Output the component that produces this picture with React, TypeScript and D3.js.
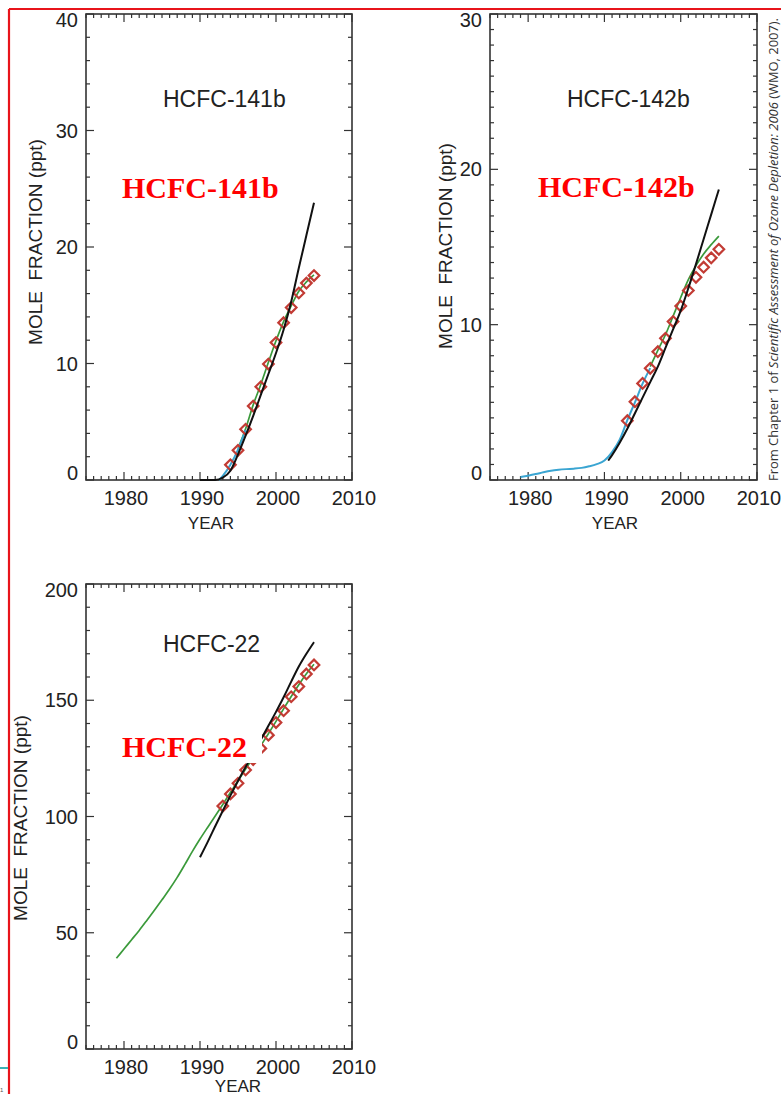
import React from 'react';
import * as d3 from 'd3';

// ---------- shared axis data ----------
const xDomain = [1975, 2010];
const xTickLabels = [1980, 1990, 2000, 2010];

// ---------- HCFC-141b ----------
const p1Title = 'HCFC-141b';
const p1YTicks = [0, 10, 20, 30, 40];
const p1ObsYears = [1994, 1995, 1996, 1997, 1998, 1999, 2000, 2001, 2002, 2003, 2004, 2005];
const p1ObsValues = [1.3, 2.55, 4.35, 6.35, 8.0, 9.95, 11.8, 13.5, 14.8, 16.05, 16.9, 17.55];
const p1BlackYears = [1990, 1991, 1992, 1993, 1994, 1995, 1996, 1997, 1998, 1999, 2000, 2001, 2002, 2003, 2004, 2005];
const p1BlackValues = [0, 0, 0, 0.2, 0.8, 2.2, 3.8, 5.5, 7.3, 9.1, 10.9, 12.9, 15.3, 18.2, 21.0, 23.8];
const p1BlueYears = [1992.5, 1993, 1994, 1995, 1996];
const p1BlueValues = [0, 0.35, 1.3, 2.6, 4.3];
const p1GreenYears = [1995, 1996, 1997, 1998, 1999, 2000, 2001, 2002, 2003, 2004, 2005];
const p1GreenValues = [2.7, 4.4, 6.45, 8.2, 10.1, 11.95, 13.6, 14.95, 16.2, 17.0, 17.6];

// ---------- HCFC-142b ----------
const p2Title = 'HCFC-142b';
const p2YTicks = [0, 10, 20, 30];
const p2ObsYears = [1993, 1994, 1995, 1996, 1997, 1998, 1999, 2000, 2001, 2002, 2003, 2004, 2005];
const p2ObsValues = [3.82, 5.04, 6.22, 7.19, 8.26, 9.12, 10.2, 11.2, 12.2, 13.05, 13.7, 14.3, 14.85];
const p2BlackYears = [1990.5, 1991, 1992, 1993, 1994, 1995, 1996, 1997, 1998, 1999, 2000, 2001, 2002, 2003, 2004, 2005];
const p2BlackValues = [1.25, 1.6, 2.4, 3.3, 4.3, 5.3, 6.3, 7.3, 8.5, 9.7, 10.9, 12.35, 13.9, 15.5, 17.1, 18.7];
const p2BlueYears = [1979, 1980, 1981, 1982, 1983, 1984, 1985, 1986, 1987, 1988, 1989, 1990, 1991, 1992, 1993, 1994, 1995, 1996];
const p2BlueValues = [0.2, 0.28, 0.38, 0.5, 0.6, 0.66, 0.7, 0.73, 0.78, 0.88, 1.02, 1.25, 1.8, 2.6, 3.85, 5.0, 6.2, 7.2];
const p2GreenYears = [1996, 1997, 1998, 1999, 2000, 2001, 2002, 2003, 2004, 2005];
const p2GreenValues = [7.3, 8.35, 9.35, 10.55, 11.75, 12.9, 13.8, 14.55, 15.15, 15.7];

// ---------- HCFC-22 ----------
const p3Title = 'HCFC-22';
const p3YTicks = [0, 50, 100, 150, 200];
const p3ObsYears = [1993, 1994, 1995, 1996, 1997, 1998, 1999, 2000, 2001, 2002, 2003, 2004, 2005];
const p3ObsValues = [104.5, 109.7, 114.3, 120, 124.5, 129.3, 135, 140.4, 145.5, 151.5, 155.9, 161.3, 165.2];
const p3BlackYears = [1990, 1991, 1992, 1993, 1994, 1995, 1996, 1997, 1998, 1999, 2000, 2001, 2002, 2003, 2004, 2005];
const p3BlackValues = [82.5, 89, 95.8, 102.5, 109, 115.3, 121.3, 127, 133, 139, 145, 151.3, 158, 164.5, 170, 175];
const p3GreenYears = [1979, 1980, 1981, 1982, 1983, 1984, 1985, 1986, 1987, 1988, 1989, 1990, 1991, 1992, 1993, 1994, 1995, 1996, 1997, 1998, 1999, 2000, 2001, 2002, 2003, 2004, 2005];
const p3GreenValues = [39, 43, 47, 51, 55.3, 59.7, 64.2, 68.8, 73.8, 79.3, 85.0, 90.3, 95.3, 100.2, 105.2, 110.3, 115.4, 120.4, 125.4, 130.5, 135.6, 140.9, 146.3, 151.6, 156.7, 161.4, 165.5];

const citationPre = 'From Chapter 1 of ';
const citationItalic = 'Scientific Assessment of Ozone Depletion: 2006';
const citationPost = ' (WMO, 2007).';

const SANS = '"Liberation Sans", Arial, Helvetica, sans-serif';
const SERIF = '"Liberation Serif", "Times New Roman", serif';
const BLACK = '#111';
const GREEN = '#3b9a3b';
const BLUE = '#3aa5d2';
const DIAMOND = '#c23b34';

type Series = { years: number[]; values: number[] };

interface PanelCfg {
  left: number; right: number; top: number; bottom: number;
  yMax: number; yMinor: number; yTicks: number[];
  title: string; titleX: number; titleY: number;
  redX: number; redY: number; redBox: [number, number, number, number];
  yLabelX: number; yLabelY: number;
  yearX: number; yearY: number;
  green?: Series; blue?: Series; black: Series; obs: Series;
}

const zip = (s: Series): [number, number][] => s.years.map((yr, i) => [yr, s.values[i]]);

function Panel({ c }: { c: PanelCfg }) {
  const x = d3.scaleLinear().domain(xDomain).range([c.left, c.right]);
  const y = d3.scaleLinear().domain([0, c.yMax]).range([c.bottom, c.top]);
  const line = d3.line<[number, number]>().x(d => x(d[0])).y(d => y(d[1])).curve(d3.curveMonotoneX);
  const minorX = d3.range(xDomain[0], xDomain[1] + 0.5, 1);
  const minorY = d3.range(0, c.yMax + 1e-6, c.yMinor);
  const isMajorY = (v: number) => c.yTicks.some(t => Math.abs(t - v) < 1e-6);
  const s = 5.3;
  const diamond = `M0,${-s}L${s},0L0,${s}L${-s},0Z`;
  return (
    <g>
      {/* ticks */}
      {minorX.map(yr => {
        const major = yr % 10 === 0;
        const L = major ? 8 : 4;
        const xx = x(yr);
        return (
          <g key={'xt' + yr} stroke="#333" strokeWidth={1.2}>
            <line x1={xx} x2={xx} y1={c.bottom} y2={c.bottom - L} />
            <line x1={xx} x2={xx} y1={c.top} y2={c.top + L} />
          </g>
        );
      })}
      {minorY.map(v => {
        const L = isMajorY(v) ? 8 : 4;
        const yy = y(v);
        return (
          <g key={'yt' + v} stroke="#333" strokeWidth={1.2}>
            <line x1={c.left} x2={c.left + L} y1={yy} y2={yy} />
            <line x1={c.right} x2={c.right - L} y1={yy} y2={yy} />
          </g>
        );
      })}
      <rect x={c.left} y={c.top} width={c.right - c.left} height={c.bottom - c.top} fill="none" stroke="#333" strokeWidth={1.6} />
      {/* tick labels */}
      {xTickLabels.map(yr => (
        <text key={'xl' + yr} x={x(yr) + 2} y={c.bottom + 25} textAnchor="middle" fontFamily={SANS} fontSize={20} fill="#222">{yr}</text>
      ))}
      {c.yTicks.map(v => {
        let by = y(v) + 7;
        if (v === c.yMax) by = c.top + 13;
        if (v === 0) by = c.bottom;
        return (
          <text key={'yl' + v} x={c.left - 8} y={by} textAnchor="end" fontFamily={SANS} fontSize={20} fill="#222">{v}</text>
        );
      })}
      <text x={c.yearX} y={c.yearY} textAnchor="middle" fontFamily={SANS} fontSize={17} fill="#222">YEAR</text>
      <text transform={`translate(${c.yLabelX},${c.yLabelY}) rotate(-90)`} textAnchor="middle" fontFamily={SANS} fontSize={19} fill="#222" xmlSpace="preserve" style={{ whiteSpace: 'pre' }}>{'MOLE  FRACTION (ppt)'}</text>
      <text x={c.titleX} y={c.titleY} fontFamily={SANS} fontSize={23} fill="#222">{c.title}</text>
      {/* data */}
      {c.green && <path d={line(zip(c.green)) || ''} fill="none" stroke={GREEN} strokeWidth={1.7} />}
      {c.blue && <path d={line(zip(c.blue)) || ''} fill="none" stroke={BLUE} strokeWidth={2} />}
      {zip(c.obs).map(([yr, v]) => (
        <path key={'d' + yr} d={diamond} transform={`translate(${x(yr)},${y(v)})`} fill="none" stroke={DIAMOND} strokeWidth={2.2} />
      ))}
      <path d={line(zip(c.black)) || ''} fill="none" stroke={BLACK} strokeWidth={2} />
      {/* red overlay label */}
      <rect x={c.redBox[0]} y={c.redBox[1]} width={c.redBox[2]} height={c.redBox[3]} fill="#fff" />
      <text x={c.redX} y={c.redY} fontFamily={SERIF} fontWeight="bold" fontSize={30} fill="#ff0000">{c.title}</text>
    </g>
  );
}

const panels: PanelCfg[] = [
  {
    left: 86, right: 352, top: 14, bottom: 480, yMax: 40, yMinor: 2, yTicks: p1YTicks,
    title: p1Title, titleX: 163, titleY: 107, redX: 122, redY: 198, redBox: [118, 168, 166, 36],
    yLabelX: 42, yLabelY: 242, yearX: 211, yearY: 529,
    green: { years: p1GreenYears, values: p1GreenValues },
    blue: { years: p1BlueYears, values: p1BlueValues },
    black: { years: p1BlackYears, values: p1BlackValues },
    obs: { years: p1ObsYears, values: p1ObsValues },
  },
  {
    left: 490, right: 757, top: 14, bottom: 480, yMax: 30, yMinor: 1, yTicks: p2YTicks,
    title: p2Title, titleX: 567, titleY: 107, redX: 538, redY: 197, redBox: [534, 167, 168, 36],
    yLabelX: 452, yLabelY: 246, yearX: 615, yearY: 529,
    green: { years: p2GreenYears, values: p2GreenValues },
    blue: { years: p2BlueYears, values: p2BlueValues },
    black: { years: p2BlackYears, values: p2BlackValues },
    obs: { years: p2ObsYears, values: p2ObsValues },
  },
  {
    left: 86, right: 352, top: 584, bottom: 1049, yMax: 200, yMinor: 10, yTicks: p3YTicks,
    title: p3Title, titleX: 163, titleY: 652, redX: 122, redY: 757, redBox: [118, 730, 144, 33],
    yLabelX: 27, yLabelY: 818, yearX: 238, yearY: 1091.5,
    green: { years: p3GreenYears, values: p3GreenValues },
    black: { years: p3BlackYears, values: p3BlackValues },
    obs: { years: p3ObsYears, values: p3ObsValues },
  },
];

export default function App() {
  return (
    <svg width={781} height={1094} viewBox="0 0 781 1094" style={{ position: 'absolute', left: 0, top: 0, background: '#fff' }}>
      <rect x={0} y={0} width={781} height={1094} fill="#fff" />
      {panels.map((p, i) => <Panel key={i} c={p} />)}
      <text transform="translate(778,481) rotate(-90)" fontFamily='"Open Sans", "DejaVu Sans", sans-serif' fontSize={12.5} fill="#333" textLength={463} lengthAdjust="spacingAndGlyphs">
        <tspan>{citationPre}</tspan>
        <tspan fontStyle="italic">{citationItalic}</tspan>
        <tspan>{citationPost}</tspan>
      </text>
      {/* slide frame */}
      <line x1={9} y1={9} x2={781} y2={9} stroke="#e8141b" strokeWidth={2.2} />
      <line x1={9} y1={9} x2={9} y2={1094} stroke="#e8141b" strokeWidth={2.2} />
      <line x1={0} y1={1068} x2={8} y2={1068} stroke="#3ab3b5" strokeWidth={2} />
      <text x={0} y={1092} fontFamily={SANS} fontSize={6} fill="#555">1</text>
    </svg>
  );
}
